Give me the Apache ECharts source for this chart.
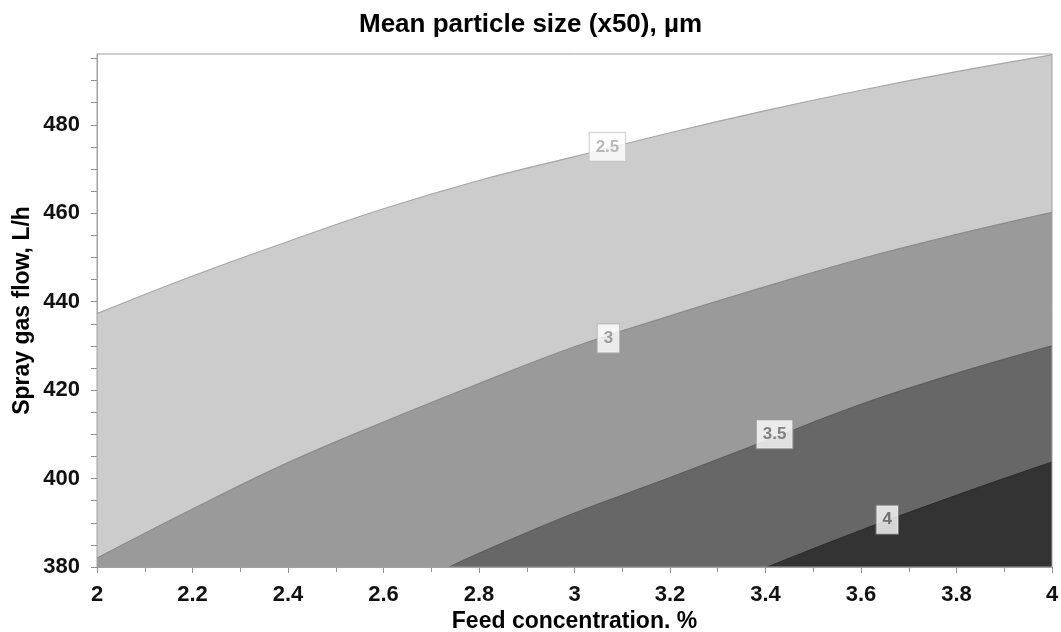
<!DOCTYPE html>
<html>
<head>
<meta charset="utf-8">
<script src="https://cdn.jsdelivr.net/npm/echarts@6/dist/echarts.min.js"></script>
<style>html,body{margin:0;padding:0;background:#fff}#c{width:1061px;height:632px}</style>
</head>
<body>
<div id="c"></div>
<script>
// ---- data ----
const titleText = 'Mean particle size (x50), µm';
const xName = 'Feed concentration. %';
const yName = 'Spray gas flow, L/h';
const xTickLabels = ['2','2.2','2.4','2.6','2.8','3','3.2','3.4','3.6','3.8','4'];
const yTickLabels = ['380','400','420','440','460','480'];

const c25X = [2.0, 2.2, 2.4, 2.6, 2.8, 3.0, 3.2, 3.4, 3.6, 3.8, 4.0];
const c25Y = [437.3, 445.8, 453.6, 461.0, 467.4, 472.8, 478.2, 483.2, 487.8, 492.0, 495.8];
const c30X = [2.0, 2.2, 2.4, 2.6, 2.8, 3.0, 3.2, 3.4, 3.6, 3.8, 4.0];
const c30Y = [382.0, 393.1, 403.6, 412.8, 421.5, 429.8, 436.8, 443.4, 449.7, 455.2, 460.2];
const c35X = [2.738, 2.8, 3.0, 3.2, 3.4, 3.6, 3.8, 4.0];
const c35Y = [380.0, 383.1, 392.2, 400.2, 408.5, 416.8, 423.8, 430.0];
const c40X = [3.404, 3.6, 3.8, 4.0];
const c40Y = [380.0, 388.3, 396.2, 403.7];

const labelNames = ['2.5', '3', '3.5', '4'];
const labelX = [3.069, 3.071, 3.419, 3.655];
const labelY = [475.0, 431.7, 410.0, 390.7];

// ---- chart ----
const FONT = 'Liberation Sans, Arial, sans-serif';
const pts = (xs, ys) => xs.map((x, i) => [x, ys[i]]);
const fills = ['#cccccc', '#9a9a9a', '#676767', '#333333'];
const strokes = ['#a6a6a6', '#8c8c8c', '#5e5e5e', '#2e2e2e'];
const labelText = ['#a8a8a8', '#888888', '#666666', '#555555'];
const labelBorder = ['#c4c4c4', '#b4b4b4', '#9a9a9a', '#888888'];
const contours = [pts(c25X, c25Y), pts(c30X, c30Y), pts(c35X, c35Y), pts(c40X, c40Y)];

const series = contours.map((d, i) => ({
  type: 'line',
  data: d,
  smooth: 0.4,
  symbol: 'none',
  silent: true,
  lineStyle: { color: strokes[i], width: 1.2 },
  areaStyle: { color: fills[i], opacity: 1, origin: 'start' },
  z: 2 + i
}));

series.push({
  type: 'scatter',
  symbolSize: 0,
  silent: true,
  z: 10,
  data: labelNames.map((n, i) => ({
    value: [labelX[i], labelY[i]],
    name: n,
    label: {
      color: labelText[i],
      borderColor: labelBorder[i]
    }
  })),
  label: {
    show: true,
    position: 'inside',
    formatter: p => p.name,
    fontFamily: FONT,
    fontWeight: 'bold',
    fontSize: 17,
    backgroundColor: '#ffffff',
    borderWidth: 1,
    padding: [6, 6, 5, 6]
  }
});

const near = (v, arr) => {
  for (const s of arr) { if (Math.abs(parseFloat(s) - v) < 1e-6) return s; }
  return '';
};

const chart = echarts.init(document.getElementById('c'), null, { renderer: 'canvas' });
chart.setOption({
  backgroundColor: '#ffffff',
  animation: false,
  title: {
    text: titleText,
    left: 'center',
    top: 7,
    textStyle: { fontFamily: FONT, fontWeight: 'bold', fontSize: 26, color: '#000' }
  },
  grid: { left: 97, right: 9, top: 54, bottom: 65, outerBoundsMode: 'none', containLabel: false,
    show: true, borderColor: '#a0a0a0', borderWidth: 1, backgroundColor: 'transparent', z: 20 },
  xAxis: {
    type: 'value', min: 2, max: 4, interval: 0.2,
    name: xName, nameLocation: 'middle', nameGap: 43, nameMoveOverlap: false,
    nameTextStyle: { fontFamily: FONT, fontWeight: 'bold', fontSize: 23, color: '#000' },
    axisLine: { show: true, lineStyle: { color: '#a0a0a0', width: 1 } },
    axisTick: { show: true, length: 6, lineStyle: { color: '#909090' } },
    minorTick: { show: true, splitNumber: 2, length: 5, lineStyle: { color: '#909090' } },
    splitLine: { show: false },
    axisLabel: { margin: 17, fontFamily: FONT, fontWeight: 'bold', fontSize: 22, color: '#111',
      formatter: v => near(v, xTickLabels) }
  },
  yAxis: {
    type: 'value', min: 380, max: 496, interval: 5,
    name: yName, nameLocation: 'middle', nameGap: 63, nameRotate: 90, nameMoveOverlap: false,
    nameTextStyle: { fontFamily: FONT, fontWeight: 'bold', fontSize: 23, color: '#000' },
    axisLine: { show: true, lineStyle: { color: '#a0a0a0', width: 1 } },
    axisTick: { show: true, length: 6, lineStyle: { color: '#909090' } },
    splitLine: { show: false },
    axisLabel: { margin: 17, fontFamily: FONT, fontWeight: 'bold', fontSize: 22, color: '#111',
      showMaxLabel: false, formatter: v => near(v, yTickLabels) }
  },
  series: series
});
</script>
</body>
</html>
